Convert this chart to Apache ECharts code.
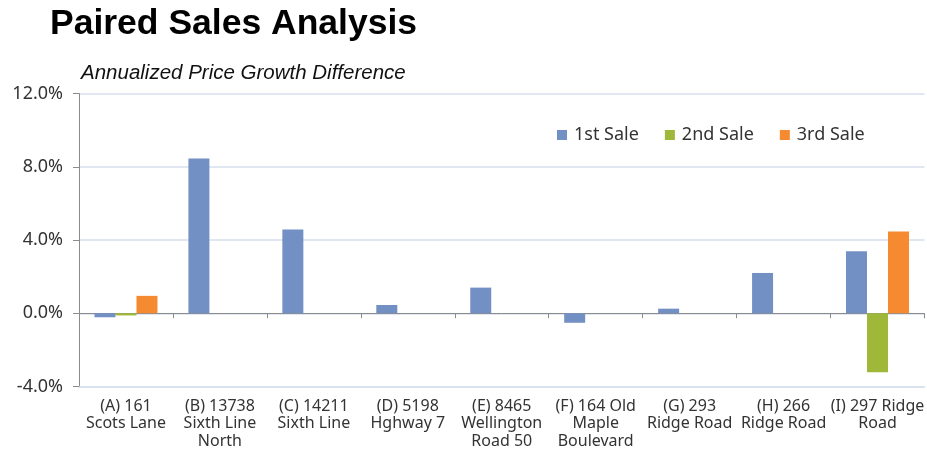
<!DOCTYPE html>
<html>
<head>
<meta charset="utf-8">
<script src="https://cdn.jsdelivr.net/npm/echarts@6/dist/echarts.min.js"></script>
<style>
html,body{margin:0;padding:0;background:#fff;}
#chart{width:927px;height:450px;}
</style>
</head>
<body>
<div id="chart"></div>
<script>
const categories = [
  "(A) 161\nScots Lane",
  "(B) 13738\nSixth Line\nNorth",
  "(C) 14211\nSixth Line",
  "(D) 5198\nHghway 7",
  "(E) 8465\nWellington\nRoad 50",
  "(F) 164 Old\nMaple\nBoulevard",
  "(G) 293\nRidge Road",
  "(H) 266\nRidge Road",
  "(I) 297 Ridge\nRoad"
];
const sale1 = [-0.22, 8.45, 4.57, 0.45, 1.4, -0.52, 0.25, 2.2, 3.39];
const sale2 = [-0.12, 0, 0, 0, 0, 0, 0, 0, -3.22];
const sale3 = [0.95, 0, 0, 0, 0, 0, 0, 0, 4.47];
const seriesNames = ["1st Sale", "2nd Sale", "3rd Sale"];
const yTicks = { min: -4, max: 12, step: 4 };

const chart = echarts.init(document.getElementById('chart'));
const fontLabel = '"Noto Sans", sans-serif';
const colors = ['#7390C4', '#A0B83A', '#F58A31'];
const mk = (name, data, i) => ({
  name: name, type: 'bar', data: data, barWidth: 21, barGap: '0%',
  itemStyle: { color: colors[i] }
});
chart.setOption({
  animation: false,
  title: [
    { text: 'Paired Sales Analysis', left: 45, top: 1,
      textStyle: { fontFamily: 'Liberation Sans, Arial, sans-serif', fontWeight: 'bold', fontSize: 35.5, color: '#000' } },
    { text: 'Annualized Price Growth Difference', left: 76, top: 58,
      textStyle: { fontFamily: 'Liberation Sans, Arial, sans-serif', fontStyle: 'italic', fontWeight: 'normal', fontSize: 20.5, color: '#111' } }
  ],
  legend: {
    data: seriesNames, left: 552, top: 121, itemWidth: 10, itemHeight: 10, itemGap: 26,
    icon: 'rect',
    textStyle: { fontFamily: fontLabel, fontSize: 18, color: '#333', padding: [0, 0, 0, 2] }
  },
  grid: { left: 79, top: 93.5, width: 851, bottom: 60, containLabel: false },
  xAxis: [
    { type: 'category', data: categories, position: 'bottom',
      axisLine: { onZero: false, show: true, lineStyle: { color: '#D6DFEF', width: 1.5 } },
      axisTick: { show: false },
      axisLabel: { fontFamily: fontLabel, fontSize: 16, color: '#333', lineHeight: 17.5, margin: 11, interval: 0 } },
    { type: 'category', data: categories, position: 'bottom',
      axisLine: { onZero: true, show: true, lineStyle: { color: '#8C8C8C', width: 1 } },
      axisTick: { show: true, length: 5, inside: false, lineStyle: { color: '#8C8C8C' } },
      axisLabel: { show: false } }
  ],
  yAxis: {
    type: 'value', min: yTicks.min, max: yTicks.max, interval: yTicks.step,
    axisLine: { show: true, lineStyle: { color: '#8C8C8C' } },
    axisTick: { show: true, length: 6, lineStyle: { color: '#8C8C8C' } },
    axisLabel: { formatter: v => v.toFixed(1) + '%', fontFamily: fontLabel, fontSize: 18, color: '#333', margin: 16 },
    splitLine: { show: true, lineStyle: { color: '#D6DFEF', width: 1.5 } }
  },
  series: [mk(seriesNames[0], sale1, 0), mk(seriesNames[1], sale2, 1), mk(seriesNames[2], sale3, 2)]
});
</script>
</body>
</html>
